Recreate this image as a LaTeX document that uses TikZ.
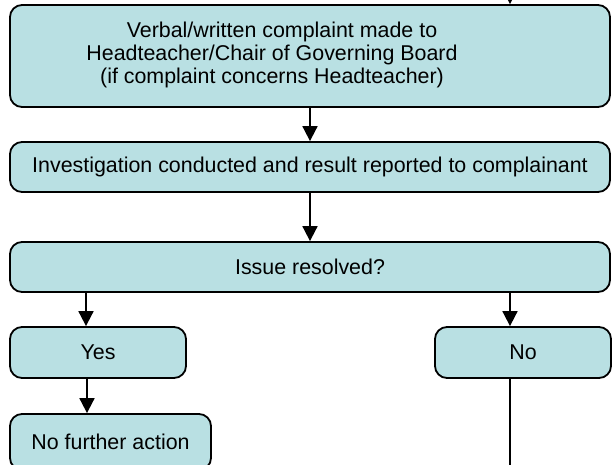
\documentclass[tikz,border=0pt]{standalone}
\usepackage{fontspec}
\setmainfont{Liberation Sans}
\usetikzlibrary{positioning,arrows.meta}
\definecolor{boxfill}{RGB}{185,224,227}
\begin{document}
\begin{tikzpicture}[x=1pt, y=-1pt,
  box/.style={draw, fill=boxfill, line width=1.8pt, rounded corners=12pt, inner sep=0pt,
    font=\fontsize{21.4}{23}\selectfont},
  arr/.style={line width=1.8pt, -{Triangle[length=15pt,width=15pt]}}]
\useasboundingbox (0,0) rectangle (616,464);
\clip (0,0) rectangle (616,464);
\node[box, minimum width=600pt, minimum height=102pt] (verbal) at (310,56)
  {\begin{tabular}{@{}c@{}}\hspace*{20pt}Verbal/written complaint made to\\
   Headteacher/Chair of Governing Board\\
   (if complaint concerns Headteacher)\end{tabular}\makebox[76pt]{}};
\node[box, minimum width=600pt, minimum height=50pt] (invest) at (310,167)
  {Investigation conducted and result reported to complainant};
\node[box, minimum width=600pt, minimum height=50pt] (issue) at (310,267) {Issue resolved?};
\node[box, minimum width=176pt, minimum height=51pt] (yes) at (98,352.5) {Yes};
\node[box, minimum width=176pt, minimum height=51pt] (no) at (523,352.5) {No};
\node[box, minimum width=201pt, minimum height=56pt] (nfa) at (110.5,442) {No further action};
\coordinate (entry) at (510,-2);
\coordinate (exit) at (510,466);
\draw[arr] (entry) -- (entry |- verbal.north);
\draw[arr] (verbal) -- (invest);
\draw[arr] (invest) -- (issue);
\draw[arr] ([xshift=-12pt]yes.north |- issue.south) -- ([xshift=-12pt]yes.north);
\draw[arr] ([xshift=-13pt]no.north |- issue.south) -- ([xshift=-13pt]no.north);
\draw[arr] ([xshift=-11pt]yes.south) -- ([xshift=-11pt]yes.south |- nfa.north);
\draw[line width=1.8pt] ([xshift=-13pt]no.south) -- (exit);
\end{tikzpicture}
\end{document}
